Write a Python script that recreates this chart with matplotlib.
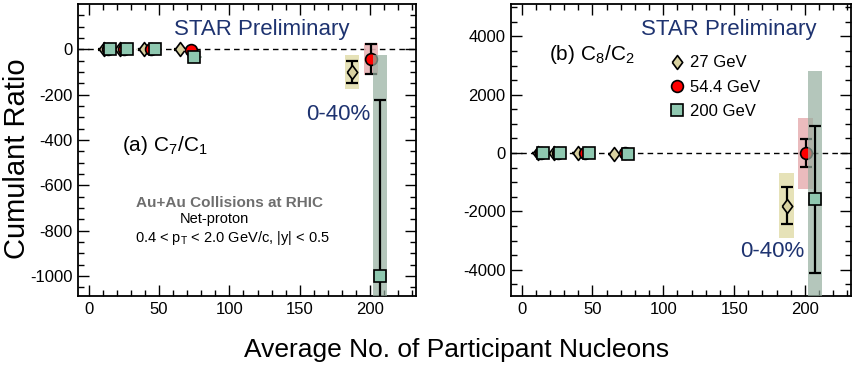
import matplotlib
matplotlib.use("Agg")
import matplotlib.pyplot as plt
from matplotlib.lines import Line2D
from matplotlib.ticker import MultipleLocator

plt.rcParams['font.family'] = ['Liberation Sans', 'DejaVu Sans']
plt.rcParams['mathtext.fontset'] = 'custom'
plt.rcParams['mathtext.rm'] = 'Liberation Sans'
plt.rcParams['mathtext.it'] = 'Liberation Sans:italic'
plt.rcParams['axes.unicode_minus'] = False

# Datos: Npart por energia (4 centralidades perifericas + 0-40%)
npart_27 = [11.3, 22.5, 39.7, 65.0, 187.0]
npart_54 = [13.5, 25.5, 44.5, 72.8, 200.4]
npart_200 = [15.4, 27.2, 47.3, 75.2, 206.9]

# (a) C7/C1
c71_27 = [0, 0, 0, 0, -100]
c71_27_stat = [2, 2, 2, 3, 50]
c71_27_sys = [2, 2, 2, 3, 75]
c71_54 = [0, 0, 0, -3, -44]
c71_54_stat = [2, 2, 2, 3, 66]
c71_54_sys = [2, 2, 2, 3, 70]
c71_200 = [0, 0, 0, -33, -1000]
c71_200_stat = [2, 2, 2, 5, 777]
c71_200_sys = [2, 2, 2, 5, 975]

# (b) C8/C2
c82_27 = [0, 0, 0, -30, -1807]
c82_27_stat = [5, 5, 5, 10, 640]
c82_27_sys = [5, 5, 5, 10, 1120]
c82_54 = [0, 0, 0, 0, 0]
c82_54_stat = [5, 5, 5, 10, 485]
c82_54_sys = [5, 5, 5, 10, 1215]
c82_200 = [0, 0, 0, -20, -1577]
c82_200_stat = [5, 5, 5, 10, 2520]
c82_200_sys = [5, 5, 5, 10, 4400]

etiquetas = ["27 GeV", "54.4 GeV", "200 GeV"]

# Estilos
rombo = [(-0.75, 0), (0, 1), (0.75, 0), (0, -1), (-0.75, 0)]
col_27, box_27 = "#d8d1a0", "#e6e2b8"
col_54, box_54 = "#ff0000", "#e8b4b6"
col_200, box_200 = "#8fc8b0", "#95ae9f"
azul = "#1e3370"


def dibujar_serie(ax, x, y, stat, sys, marcador, ms, color, caja, alfa_caja, z):
    alturas = [2 * s for s in sys]
    bases = [v - s for v, s in zip(y, sys)]
    ax.bar(x, alturas, bottom=bases, width=10, color=caja, alpha=alfa_caja,
           linewidth=0, zorder=z)
    ax.errorbar(x, y, yerr=stat, fmt="none", ecolor="black", elinewidth=1.6,
                capsize=4, capthick=1.6, zorder=z + 0.5)
    ax.plot(x, y, linestyle="none", marker=marcador, ms=ms, mfc=color,
            mec="black", mew=1.2, zorder=z + 0.6)


def preparar_ejes(ax, ylim, ymaj, ymin):
    ax.set_xlim(-7.5, 232.5)
    ax.set_ylim(*ylim)
    ax.axhline(0, color="black", lw=1, ls=(0, (4, 3)), zorder=0.5)
    ax.xaxis.set_major_locator(MultipleLocator(50))
    ax.xaxis.set_minor_locator(MultipleLocator(10))
    ax.yaxis.set_major_locator(MultipleLocator(ymaj))
    ax.yaxis.set_minor_locator(MultipleLocator(ymin))
    ax.tick_params(which="both", direction="in", top=True, right=True,
                   width=1, labelsize=12)
    ax.tick_params(which="major", length=8, pad=4)
    ax.tick_params(which="minor", length=4)
    for s in ax.spines.values():
        s.set_linewidth(1.3)


fig = plt.figure(figsize=(8.52, 3.69), dpi=100)
ax1 = fig.add_axes([78 / 852, 73 / 369, 338 / 852, 291.7 / 369])
ax2 = fig.add_axes([511 / 852, 73 / 369, 340 / 852, 291.7 / 369])

# Panel (a)
preparar_ejes(ax1, (-1088, 198), 200, 50)
dibujar_serie(ax1, npart_27, c71_27, c71_27_stat, c71_27_sys, rombo, 10, col_27, box_27, 1.0, 1)
dibujar_serie(ax1, npart_54, c71_54, c71_54_stat, c71_54_sys, "o", 8.5, col_54, box_54, 0.9, 2)
dibujar_serie(ax1, npart_200, c71_200, c71_200_stat, c71_200_sys, "s", 8.5, col_200, box_200, 0.7, 4)
ax1.text(123, 85, "STAR Preliminary", color=azul, fontsize=16, ha="center", va="center")
ax1.text(200, -290, "0-40%", color=azul, fontsize=16, ha="right", va="center")
ax1.text(24, -425, r"(a) C$_{\mathregular{7}}$/C$_{\mathregular{1}}$", fontsize=15, ha="left", va="center")
ax1.text(100, -677, "Au+Au Collisions at RHIC", color="#6e6e6e", fontsize=11,
         fontweight="bold", ha="center", va="center")
ax1.text(89, -749, "Net-proton", fontsize=10.5, ha="center", va="center")
ax1.text(102, -834, r"0.4 < p$_{\mathregular{T}}$ < 2.0 GeV/c, |y| < 0.5", fontsize=10.5,
         ha="center", va="center")

# Panel (b)
preparar_ejes(ax2, (-4900, 5100), 2000, 500)
dibujar_serie(ax2, npart_27, c82_27, c82_27_stat, c82_27_sys, rombo, 10, col_27, box_27, 1.0, 1)
dibujar_serie(ax2, npart_54, c82_54, c82_54_stat, c82_54_sys, "o", 8.5, col_54, box_54, 0.9, 2)
dibujar_serie(ax2, npart_200, c82_200, c82_200_stat, c82_200_sys, "s", 8.5, col_200, box_200, 0.7, 4)
ax2.text(146, 4227, "STAR Preliminary", color=azul, fontsize=16, ha="center", va="center")
ax2.text(199.5, -3373, "0-40%", color=azul, fontsize=16, ha="right", va="center")
ax2.text(19, 3370, r"(b) C$_{\mathregular{8}}$/C$_{\mathregular{2}}$", fontsize=15, ha="left", va="center")

handles = [
    Line2D([], [], ls="none", marker=rombo, ms=10, mfc=col_27, mec="black", mew=1.2),
    Line2D([], [], ls="none", marker="o", ms=8.5, mfc=col_54, mec="black", mew=1.2),
    Line2D([], [], ls="none", marker="s", ms=8.5, mfc=col_200, mec="black", mew=1.2),
]
ax2.legend(handles, etiquetas, loc="upper left", bbox_to_anchor=(0.463, 0.825),
           frameon=False, fontsize=12, handlelength=1.0, handletextpad=0.3,
           labelspacing=0.56, borderpad=0, borderaxespad=0)

fig.text(17 / 852, 1 - 158.5 / 369, "Cumulant Ratio", fontsize=21, rotation=90,
         ha="center", va="center")
fig.text(456.5 / 852, 1 - 350 / 369, "Average No. of Participant Nucleons", fontsize=19,
         ha="center", va="center")

fig.savefig("out.png", dpi=100)
